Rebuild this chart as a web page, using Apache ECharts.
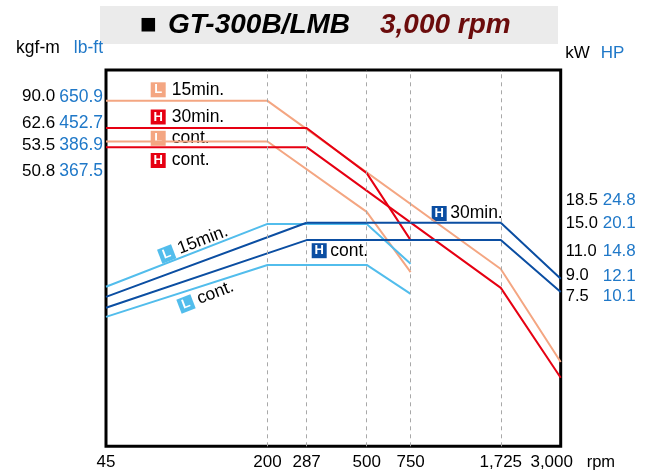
<!DOCTYPE html>
<html><head><meta charset="utf-8">
<script src="https://cdn.jsdelivr.net/npm/echarts@6/dist/echarts.min.js"></script>
<style>html,body{margin:0;padding:0;background:#fff}#c{width:648px;height:470px}</style>
</head><body><div id="c"></div>
<script>
// ---- x axis (rpm, log scale) ----
const rpmTicks = [45, 200, 287, 500, 750, 1725, 3000];
const rpmTickLabels = ['45', '200', '287', '500', '750', '1,725', '3,000'];
const rpmGuides = [200, 287, 500, 750, 1725];

// ---- curves: rpm break points and relative chart level (0 = bottom, 100 = top) ----
const torqueL15Rpm = [45, 200, 1725, 3000];
const torqueL15 = [91.8, 91.8, 47.1, 22.4];
const torqueLcontRpm = [45, 200, 500, 750];
const torqueLcont = [81.0, 81.0, 62.3, 46.3];
const torqueH30Rpm = [45, 287, 500, 750];
const torqueH30 = [84.6, 84.6, 72.6, 54.8];
const torqueHcontRpm = [45, 287, 1725, 3000];
const torqueHcont = [79.5, 79.5, 42.1, 18.2];

const powerL15Rpm = [45, 200, 500, 750];
const powerL15 = [42.4, 59.1, 59.1, 48.5];
const powerLcontRpm = [45, 200, 500, 750];
const powerLcont = [34.4, 48.2, 48.2, 40.5];
const powerH30Rpm = [45, 287, 1725, 3000];
const powerH30 = [39.7, 59.4, 59.4, 44.5];
const powerHcontRpm = [45, 287, 1725, 3000];
const powerHcont = [36.8, 54.8, 54.8, 41.0];

// ---- rating labels ----
const torqueKgfm = ['90.0', '62.6', '53.5', '50.8'];
const torqueLbft = ['650.9', '452.7', '386.9', '367.5'];
const torqueLabelLevels = [92.9, 85.8, 79.9, 73.2];
const powerKW = ['18.5', '15.0', '11.0', '9.0', '7.5'];
const powerHP = ['24.8', '20.1', '14.8', '12.1', '10.1'];
const powerLabelLevels = [65.3, 59.3, 51.7, 45.3, 39.8];

const C = {
  orange: '#f4a682', red: '#e60012', lblue: '#52bdec', dblue: '#0b4ea2',
  blueText: '#1f78c8', grid: '#a8a8a8', titleRed: '#6b0c0c'
};
const FONT = '"Liberation Sans", Arial, sans-serif';

function pts(xs, ys) { return xs.map((x, i) => [x, ys[i]]); }
function findIdx(arr, v) { return arr.findIndex(a => Math.abs(a - v) < 0.05); }

function lineSeries(name, xs, ys, color, extra) {
  return Object.assign({
    name, type: 'line', data: pts(xs, ys), symbol: 'none', showSymbol: false,
    lineStyle: { color, width: 2 }, itemStyle: { color }, silent: true
  }, extra || {});
}

function tag(letter, text, color, x, y, gap, rot) {
  return {
    type: 'text', x, y, rotation: rot || 0, silent: true,
    style: {
      text: '{b|' + letter + '}{t|' + text + '}',
      verticalAlign: 'middle', align: 'left',
      rich: {
        b: { backgroundColor: color, width: 15, height: 15, lineHeight: 15, align: 'center',
             fill: '#fff', fontSize: 13, fontWeight: 'bold', fontFamily: FONT },
        t: { fill: '#000', fontSize: 17.5, fontFamily: FONT, padding: [0, 0, 0, gap] }
      }
    }
  };
}

const chart = echarts.init(document.getElementById('c'), null, { renderer: 'canvas' });
const deg = Math.PI / 180;

chart.setOption({
  animation: false,
  backgroundColor: '#fff',
  textStyle: { fontFamily: FONT },
  title: {
    text: '{sq|■}{m|GT-300B/LMB}{r|3,000 rpm}',
    left: 140, top: 9.5, padding: 0,
    textStyle: {
      lineHeight: 32,
      rich: {
        sq: { fontSize: 28, color: '#000', width: 28, fontFamily: FONT, lineHeight: 32 },
        m: { fontSize: 28, fontStyle: 'italic', color: '#000', width: 212, fontFamily: FONT, lineHeight: 32 },
        r: { fontSize: 28, fontStyle: 'italic', color: C.titleRed, fontFamily: FONT, lineHeight: 32 }
      }
    }
  },
  graphic: [
    { type: 'rect', z: -10, silent: true, shape: { x: 100, y: 6, width: 458, height: 38 }, style: { fill: '#ebebeb' } },
    tag('L', '15min.', C.orange, 150.7, 89.8, 6),
    tag('H', '30min.', C.red, 150.7, 117, 6),
    tag('L', 'cont.', C.orange, 150.7, 138.3, 6),
    tag('H', 'cont.', C.red, 150.7, 160.5, 6),
    tag('H', '30min.', C.dblue, 431.7, 213.5, 3.5),
    tag('H', 'cont.', C.dblue, 311.7, 250.7, 3.5),
    tag('L', '15min.', C.lblue, 159.7, 256.7, 5, 21 * deg),
    tag('L', 'cont.', C.lblue, 179, 306.7, 5, 21 * deg)
  ],
  grid: {
    left: 106, right: 87.3, top: 70, bottom: 23.7,
    show: true, borderColor: '#000', borderWidth: 3, backgroundColor: 'transparent',
    containLabel: false, outerBoundsMode: 'none'
  },
  xAxis: {
    type: 'log', logBase: 10, min: 45, max: 3000,
    name: 'rpm', nameLocation: 'end', nameGap: 26,
    nameTextStyle: { color: '#000', fontSize: 16.5, align: 'left', verticalAlign: 'top', padding: [8, 0, 0, 0] },
    axisLine: { show: false }, axisTick: { show: false }, splitLine: { show: false },
    axisLabel: {
      customValues: rpmTicks, margin: 8, color: '#000', fontSize: 17,
      formatter: v => {
        const i = rpmTicks.findIndex(t => Math.abs(t - v) / t < 1e-3);
        if (i < 0) return '';
        return i === rpmTicks.length - 1 ? '{s|' + rpmTickLabels[i] + '}' : rpmTickLabels[i];
      },
      rich: { s: { fontSize: 17, color: '#000', padding: [0, 18, 0, 0] } }
    }
  },
  yAxis: [
    {
      type: 'value', min: 0, max: 100, position: 'left',
      name: '{k|kgf-m}{l|lb-ft}', nameLocation: 'end', nameGap: 22,
      nameTextStyle: {
        align: 'right', verticalAlign: 'middle', padding: [0, 3, 0, 0],
        rich: { k: { fontSize: 17.5, color: '#000' }, l: { fontSize: 17.5, color: C.blueText, padding: [0, 0, 0, 14] } }
      },
      axisLine: { show: false }, axisTick: { show: false }, splitLine: { show: false },
      axisLabel: {
        customValues: torqueLabelLevels, margin: 3,
        formatter: v => { const i = findIdx(torqueLabelLevels, v); return i < 0 ? '' : '{k|' + torqueKgfm[i] + '}{l|' + torqueLbft[i] + '}'; },
        rich: { k: { fontSize: 17, color: '#000' }, l: { fontSize: 17.5, color: C.blueText, padding: [0, 0, 0, 4] } }
      }
    },
    {
      type: 'value', min: 0, max: 100, position: 'right',
      name: '{k|kW}{l|HP}', nameLocation: 'end', nameGap: 16.7,
      nameTextStyle: {
        align: 'left', verticalAlign: 'middle', padding: [0, 0, 0, 4.5],
        rich: { k: { fontSize: 17, color: '#000' }, l: { fontSize: 17, color: C.blueText, padding: [0, 0, 0, 11] } }
      },
      axisLine: { show: false }, axisTick: { show: false }, splitLine: { show: false },
      axisLabel: {
        customValues: powerLabelLevels, margin: 5,
        formatter: v => { const i = findIdx(powerLabelLevels, v); return i < 0 ? '' : '{k|' + powerKW[i] + '}{l|' + powerHP[i] + '}'; },
        rich: { k: { fontSize: 16.5, color: '#000', width: 37, align: 'left' }, l: { fontSize: 17, color: C.blueText } }
      }
    }
  ],
  series: [
    lineSeries('L 15min. torque', torqueL15Rpm, torqueL15, C.orange, {
      markLine: {
        silent: true, symbol: 'none', animation: false,
        label: { show: false },
        lineStyle: { type: [4, 4], color: C.grid, width: 1 },
        emphasis: { disabled: true },
        data: rpmGuides.map(v => ({ xAxis: v }))
      }
    }),
    lineSeries('L cont. torque', torqueLcontRpm, torqueLcont, C.orange),
    lineSeries('H 30min. torque', torqueH30Rpm, torqueH30, C.red),
    lineSeries('H cont. torque', torqueHcontRpm, torqueHcont, C.red),
    lineSeries('L 15min. power', powerL15Rpm, powerL15, C.lblue),
    lineSeries('L cont. power', powerLcontRpm, powerLcont, C.lblue),
    lineSeries('H 30min. power', powerH30Rpm, powerH30, C.dblue),
    lineSeries('H cont. power', powerHcontRpm, powerHcont, C.dblue)
  ]
});
</script>
</body></html>
